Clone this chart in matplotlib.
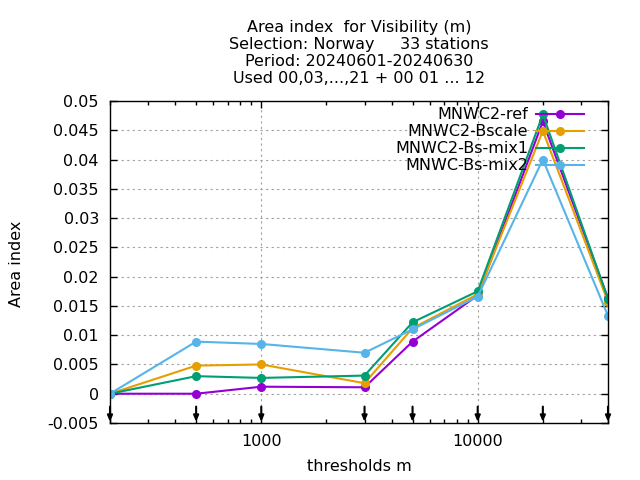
import matplotlib
matplotlib.use("Agg")
import matplotlib.pyplot as plt
from matplotlib.ticker import FixedLocator, FuncFormatter, LogLocator, NullFormatter

thresholds = [200, 500, 1000, 3000, 5000, 10000, 20000, 40000]
ref = [0.0, 0.0, 0.0012, 0.0011, 0.0089, 0.0168, 0.0465, 0.0163]
bscale = [0.0, 0.0048, 0.0050, 0.0018, 0.0112, 0.0170, 0.0449, 0.0157]
mix1 = [0.0, 0.0030, 0.0027, 0.0031, 0.0122, 0.0175, 0.0477, 0.0162]
mix2 = [0.0, 0.0089, 0.0085, 0.0070, 0.0110, 0.0166, 0.0400, 0.0133]
labels = ["MNWC2-ref", "MNWC2-Bscale", "MNWC2-Bs-mix1", "MNWC-Bs-mix2"]
colors = ["#9400d3", "#e69f00", "#009e73", "#56b4e9"]
title = ("Area index  for Visibility (m)\n"
         "Selection: Norway     33 stations\n"
         "Period: 20240601-20240630\n"
         "Used 00,03,...,21 + 00 01 ... 12")
yticks = [-0.005, 0, 0.005, 0.01, 0.015, 0.02, 0.025, 0.03, 0.035, 0.04, 0.045, 0.05]

plt.rcParams['font.family'] = ['DejaVu Sans']
plt.rcParams['axes.unicode_minus'] = False
fs = 11.5
fig = plt.figure(figsize=(6.4, 4.8), dpi=100)
ax = fig.add_axes([110/640, 1-423/480, 498/640, 322/480])

for ys, lab, c in zip([ref, bscale, mix1, mix2], labels, colors):
    ax.plot(thresholds, ys, color=c, lw=1.5, marker='o', ms=5.5, label=lab)

for t in thresholds:
    ax.annotate("", xy=(t, -0.0048), xytext=(t, -0.0022),
                arrowprops=dict(arrowstyle="-|>,head_length=0.35,head_width=0.15",
                                color="black", lw=1.5, shrinkA=0, shrinkB=0))

ax.set_xscale('log')
ax.set_xlim(200, 40000)
ax.set_ylim(-0.005, 0.05)
ax.xaxis.set_major_locator(FixedLocator([1000, 10000]))
ax.xaxis.set_major_formatter(FuncFormatter(lambda v, p: "%d" % v))
ax.xaxis.set_minor_locator(LogLocator(base=10, subs=range(2, 10)))
ax.xaxis.set_minor_formatter(NullFormatter())
ax.yaxis.set_major_locator(FixedLocator(yticks))
ax.yaxis.set_major_formatter(FuncFormatter(lambda v, p: "%g" % round(v, 4)))
ax.tick_params(which='both', direction='in', top=True, right=True, labelsize=fs, pad=8)
ax.tick_params(which='major', length=5, width=1)
ax.tick_params(which='minor', length=3, width=1)
ax.grid(True, which='major', color='#a0a0a0', linestyle=(0, (2, 3)), lw=0.8)
for s in ax.spines.values():
    s.set_linewidth(1)

ax.set_xlabel("thresholds m", fontsize=fs)
ax.xaxis.set_label_coords(0.5, -0.112)
ax.set_ylabel("Area index", fontsize=fs)
ax.yaxis.set_label_coords(-0.173, 0.494)
ax.set_title(title, fontsize=fs, linespacing=1.16, pad=13)

ax.legend(loc='upper right', bbox_to_anchor=(0.952, 0.98), frameon=False,
          markerfirst=False, fontsize=fs, numpoints=1, handlelength=3.0,
          handletextpad=0.5, labelspacing=0.12, borderpad=0, borderaxespad=0)

fig.savefig("out.png", dpi=100)
